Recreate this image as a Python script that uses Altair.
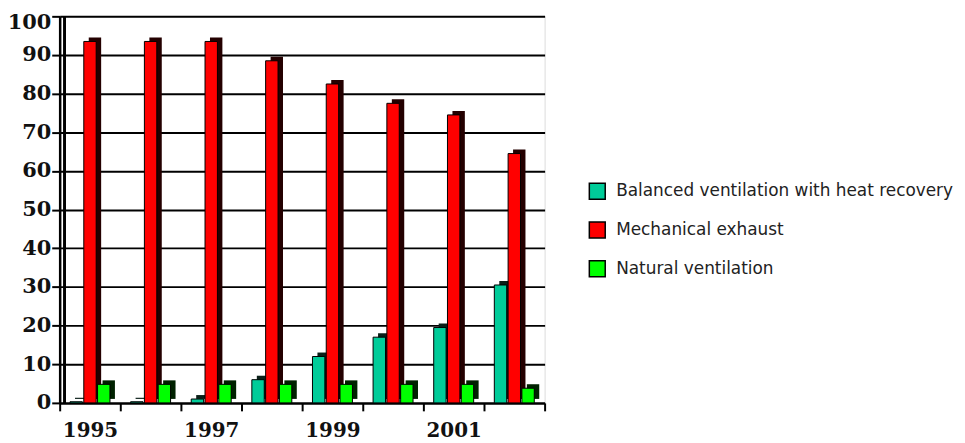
import altair as alt
import pandas as pd

years = ["1995", "1996", "1997", "1998", "1999", "2000", "2001", "2002"]
series = ["Balanced ventilation with heat recovery", "Mechanical exhaust", "Natural ventilation"]
balanced = [0.3, 0.3, 1.0, 6.0, 12.0, 17.0, 19.5, 30.5]
mechanical = [93.5, 93.5, 93.5, 88.5, 82.5, 77.5, 74.5, 64.5]
natural = [4.8, 4.8, 4.8, 4.8, 4.8, 4.8, 4.8, 3.8]

front_colors = ["#00CC99", "#FF0000", "#00FF00"]
side_colors = ["#0a1f18", "#240000", "#002200"]

rows = []
for s, vals in zip(series, [balanced, mechanical, natural]):
    for y, v in zip(years, vals):
        rows.append({"year": y, "series": s, "value": v})
df = pd.DataFrame(rows)

W, H = 488, 389

x_enc = alt.X(
    "year:O",
    sort=years,
    scale=alt.Scale(paddingInner=0, paddingOuter=0),
    axis=alt.Axis(
        title=None,
        labelAngle=0,
        tickBand="extent",
        labelExpr="toNumber(datum.value) % 2 == 1 ? datum.label : ''",
        labelFont="DejaVu Serif",
        labelFontWeight="bold",
        labelFontSize=20,
        labelColor="#111",
        labelPadding=10,
        tickSize=8,
        tickWidth=2,
        tickColor="black",
        domainColor="black",
        domainWidth=2,
        grid=False,
    ),
)

y_enc = alt.Y(
    "value:Q",
    scale=alt.Scale(domain=[0, 100], nice=False),
    axis=alt.Axis(
        title=None,
        values=list(range(0, 101, 10)),
        labelFont="DejaVu Serif",
        labelFontWeight="bold",
        labelFontSize=21,
        labelColor="#111",
        labelPadding=1,
        labelOffset={"condition": {"test": "datum.value == 100", "value": 6}, "value": 0},
        tickSize=8,
        tickWidth=2,
        tickColor="black",
        domainColor="black",
        domainWidth=2.5,
        grid=True,
        gridColor="black",
        gridWidth=2,
        gridOpacity=1,
    ),
)

wall = alt.Chart(df).mark_rule(color="black", strokeWidth=1.5).encode(
    x=alt.value(5), y=alt.value(0), y2=alt.value(H)
)

shadow = alt.Chart(df).mark_bar(yOffset=-4).encode(
    x=x_enc,
    y=y_enc,
    xOffset=alt.XOffset("series:N", sort=series,
                        scale=alt.Scale(range=[5, W / 8 + 5], paddingInner=0.1, paddingOuter=0.75)),
    color=alt.Color("series:N", scale=alt.Scale(domain=series, range=side_colors), legend=None),
)

front = alt.Chart(df).mark_bar(stroke="black", strokeWidth=1).encode(
    x=x_enc,
    y=y_enc,
    xOffset=alt.XOffset("series:N", sort=series,
                        scale=alt.Scale(paddingInner=0.1, paddingOuter=0.75)),
    color=alt.Color(
        "series:N",
        scale=alt.Scale(domain=series, range=front_colors),
        legend=alt.Legend(
            title=None,
            orient="none",
            legendX=532,
            legendY=167,
            symbolType="square",
            symbolSize=256,
            symbolStrokeColor="black",
            symbolStrokeWidth=1.5,
            symbolOpacity=1,
            labelFont="DejaVu Sans",
            labelFontSize=17,
            labelColor="#222",
            labelLimit=500,
            labelOffset=10,
            rowPadding=17,
            padding=0,
        ),
    ),
)

chart = alt.layer(wall, shadow, front).resolve_scale(
    color="independent", xOffset="independent"
).properties(
    width=W,
    height=H,
    autosize=alt.AutoSizeParams(type="none"),
    padding={"left": 52, "top": 7, "right": 415, "bottom": 44},
).configure_view(
    stroke="black", strokeWidth=2
).configure(background="white")

chart.save("out.html", embed_options={"renderer": "svg", "actions": False})
